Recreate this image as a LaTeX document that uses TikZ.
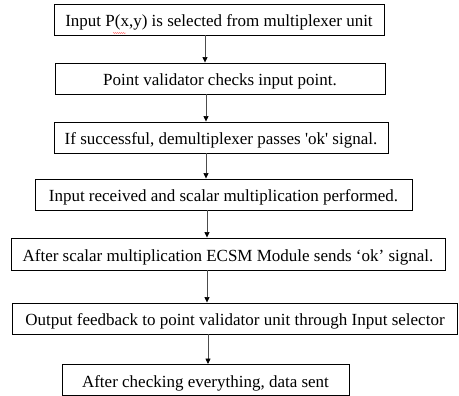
\documentclass[tikz,border=0pt]{standalone}
\usepackage{fontspec}
\setmainfont{Liberation Serif}[Ligatures=TeXOff]
\usetikzlibrary{arrows.meta,decorations.pathmorphing}
\begin{document}
\begin{tikzpicture}[x=1pt,y=1pt,
  stepbox/.style={draw=black, line width=0.9pt, inner sep=0pt, minimum height=31pt,
    text height=15pt, text depth=0pt, anchor=center, font=\fontsize{17}{17}\selectfont},
  flow/.style={draw=black!70, line width=0.7pt, -{Triangle[length=5.5pt,width=5pt,color=black]}}]
\useasboundingbox (0,0) rectangle (459,396);
\node[stepbox, minimum width=330pt] (b1) at (219,376.5) {Input P(x,y) is selected from multiplexer unit};
\node[stepbox, minimum width=330pt] (b2) at (220,317.5) {Point validator checks input point.};
\node[stepbox, minimum width=334pt] (b3) at (221,258.5) {If successful, demultiplexer passes 'ok' signal.};
\node[stepbox, minimum width=377pt] (b4) at (223.5,201.5) {Input received and scalar multiplication performed.};
\node[stepbox, minimum width=434pt, minimum height=32pt] (b5) at (228,142) {After scalar multiplication ECSM Module sends ‘ok’ signal.};
\node[stepbox, minimum width=445pt] (b6) at (235,77.5) {Output feedback to point validator unit through Input selector};
\node[stepbox, minimum width=287pt] (b7) at (205.5,16) {After checking everything, data sent};
\draw[red!70, line width=0.4pt, decorate, decoration={snake, amplitude=0.5pt, segment length=2pt}] (113,363) -- (126,363);
\coordinate (a1) at (205,0);
\coordinate (a2) at (206,0);
\coordinate (a3) at (207,0);
\coordinate (a4) at (208,0);
\draw[flow] (b1.south -| a1) -- (b2.north -| a1);
\draw[flow] (b2.south -| a2) -- (b3.north -| a2);
\draw[flow] (b3.south -| a2) -- (b4.north -| a2);
\draw[flow] (b4.south -| a3) -- (b5.north -| a3);
\draw[flow] (b5.south -| a3) -- (b6.north -| a3);
\draw[flow] (b6.south -| a4) -- (b7.north -| a4);
\end{tikzpicture}
\end{document}
